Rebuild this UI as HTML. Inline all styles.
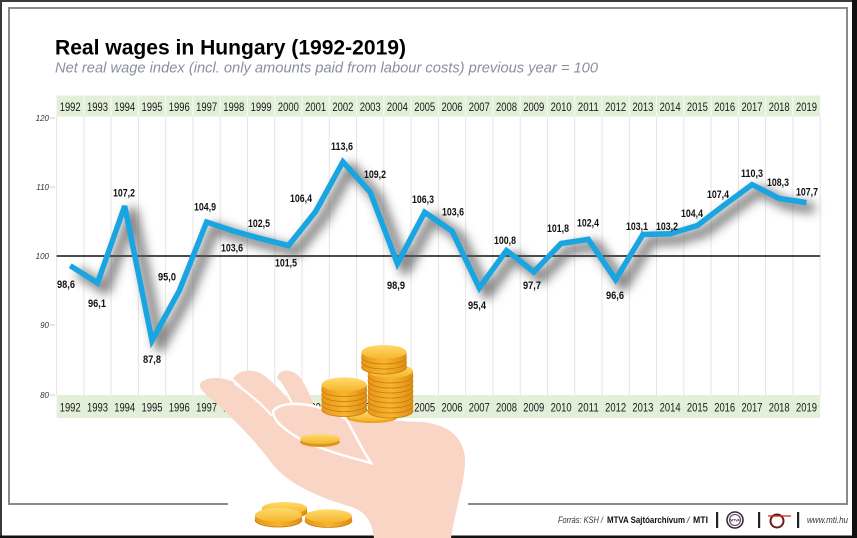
<!DOCTYPE html>
<html><head><meta charset="utf-8"><style>
html,body{margin:0;padding:0;background:#fff;}
svg{display:block;}
text{font-family:"Liberation Sans",Arial,sans-serif;}
</style></head><body>
<svg width="857" height="538" viewBox="0 0 857 538" xmlns="http://www.w3.org/2000/svg">
<defs>
<filter id="sh" x="-10%" y="-30%" width="130%" height="170%"><feGaussianBlur stdDeviation="5"/></filter>
<linearGradient id="cg" x1="0" y1="0" x2="0" y2="1"><stop offset="0" stop-color="#ffdb6a"/><stop offset="1" stop-color="#f5b52e"/></linearGradient>
<linearGradient id="sg" x1="0" y1="0" x2="1" y2="0"><stop offset="0" stop-color="#e8961a"/><stop offset="0.5" stop-color="#f7b52c"/><stop offset="1" stop-color="#e08d14"/></linearGradient>
<g id="coin">
<ellipse cx="0" cy="5" rx="22.5" ry="7" fill="url(#sg)" stroke="#c47a0e" stroke-width="0.8"/>
<rect x="-22.5" y="0" width="45" height="5" fill="url(#sg)"/>
<ellipse cx="0" cy="0" rx="22.5" ry="7" fill="url(#cg)"/>
</g>
</defs>
<rect x="0" y="0" width="857" height="538" fill="#fff"/>
<rect x="0" y="0" width="857" height="2" fill="#3a3a3a"/>
<rect x="0" y="0" width="2" height="538" fill="#3a3a3a"/>
<rect x="852" y="0" width="5" height="538" fill="#111"/>
<rect x="0" y="535.5" width="857" height="2.5" fill="#111"/>
<rect x="9" y="8" width="838" height="496" fill="none" stroke="#8a8a8a" stroke-width="2"/>

<text x="55" y="54.5" font-size="21" font-weight="bold" fill="#000" textLength="351" lengthAdjust="spacingAndGlyphs">Real wages in Hungary (1992-2019)</text>
<text x="55" y="72.5" font-size="14.5" font-style="italic" fill="#8a8fa0" textLength="543" lengthAdjust="spacingAndGlyphs">Net real wage index (incl. only amounts paid from labour costs) previous year = 100</text>

<rect x="56.6" y="95.5" width="763.6" height="21" fill="#e2efd9"/>
<rect x="56.6" y="395" width="763.6" height="23" fill="#e2efd9"/>

<g stroke="#e4e4e4" stroke-width="1">
<line x1="56.6" y1="116.5" x2="56.6" y2="395"/><line x1="83.9" y1="116.5" x2="83.9" y2="395"/><line x1="111.1" y1="116.5" x2="111.1" y2="395"/><line x1="138.4" y1="116.5" x2="138.4" y2="395"/><line x1="165.7" y1="116.5" x2="165.7" y2="395"/><line x1="193.0" y1="116.5" x2="193.0" y2="395"/><line x1="220.2" y1="116.5" x2="220.2" y2="395"/><line x1="247.5" y1="116.5" x2="247.5" y2="395"/><line x1="274.8" y1="116.5" x2="274.8" y2="395"/><line x1="302.0" y1="116.5" x2="302.0" y2="395"/><line x1="329.3" y1="116.5" x2="329.3" y2="395"/><line x1="356.6" y1="116.5" x2="356.6" y2="395"/><line x1="383.8" y1="116.5" x2="383.8" y2="395"/><line x1="411.1" y1="116.5" x2="411.1" y2="395"/><line x1="438.4" y1="116.5" x2="438.4" y2="395"/><line x1="465.7" y1="116.5" x2="465.7" y2="395"/><line x1="492.9" y1="116.5" x2="492.9" y2="395"/><line x1="520.2" y1="116.5" x2="520.2" y2="395"/><line x1="547.5" y1="116.5" x2="547.5" y2="395"/><line x1="574.7" y1="116.5" x2="574.7" y2="395"/><line x1="602.0" y1="116.5" x2="602.0" y2="395"/><line x1="629.3" y1="116.5" x2="629.3" y2="395"/><line x1="656.5" y1="116.5" x2="656.5" y2="395"/><line x1="683.8" y1="116.5" x2="683.8" y2="395"/><line x1="711.1" y1="116.5" x2="711.1" y2="395"/><line x1="738.4" y1="116.5" x2="738.4" y2="395"/><line x1="765.6" y1="116.5" x2="765.6" y2="395"/><line x1="792.9" y1="116.5" x2="792.9" y2="395"/><line x1="820.2" y1="116.5" x2="820.2" y2="395"/>
</g>
<g stroke="#f6fbf3" stroke-width="1">
<line x1="83.9" y1="95.5" x2="83.9" y2="116.5"/><line x1="111.1" y1="95.5" x2="111.1" y2="116.5"/><line x1="138.4" y1="95.5" x2="138.4" y2="116.5"/><line x1="165.7" y1="95.5" x2="165.7" y2="116.5"/><line x1="193.0" y1="95.5" x2="193.0" y2="116.5"/><line x1="220.2" y1="95.5" x2="220.2" y2="116.5"/><line x1="247.5" y1="95.5" x2="247.5" y2="116.5"/><line x1="274.8" y1="95.5" x2="274.8" y2="116.5"/><line x1="302.0" y1="95.5" x2="302.0" y2="116.5"/><line x1="329.3" y1="95.5" x2="329.3" y2="116.5"/><line x1="356.6" y1="95.5" x2="356.6" y2="116.5"/><line x1="383.8" y1="95.5" x2="383.8" y2="116.5"/><line x1="411.1" y1="95.5" x2="411.1" y2="116.5"/><line x1="438.4" y1="95.5" x2="438.4" y2="116.5"/><line x1="465.7" y1="95.5" x2="465.7" y2="116.5"/><line x1="492.9" y1="95.5" x2="492.9" y2="116.5"/><line x1="520.2" y1="95.5" x2="520.2" y2="116.5"/><line x1="547.5" y1="95.5" x2="547.5" y2="116.5"/><line x1="574.7" y1="95.5" x2="574.7" y2="116.5"/><line x1="602.0" y1="95.5" x2="602.0" y2="116.5"/><line x1="629.3" y1="95.5" x2="629.3" y2="116.5"/><line x1="656.5" y1="95.5" x2="656.5" y2="116.5"/><line x1="683.8" y1="95.5" x2="683.8" y2="116.5"/><line x1="711.1" y1="95.5" x2="711.1" y2="116.5"/><line x1="738.4" y1="95.5" x2="738.4" y2="116.5"/><line x1="765.6" y1="95.5" x2="765.6" y2="116.5"/><line x1="792.9" y1="95.5" x2="792.9" y2="116.5"/>
</g>

<g stroke="#cccccc" stroke-width="1">
<line x1="50" y1="118" x2="55" y2="118"/><line x1="50" y1="187" x2="55" y2="187"/><line x1="50" y1="325" x2="55" y2="325"/><line x1="50" y1="395" x2="55" y2="395"/>
</g>
<g font-size="8" font-style="italic" fill="#333" text-anchor="end">
<text x="49" y="121">120</text>
<text x="49" y="190">110</text>
<text x="49" y="259">100</text>
<text x="49" y="328">90</text>
<text x="49" y="398">80</text>
</g>

<line x1="56.6" y1="256" x2="820.2" y2="256" stroke="#111" stroke-width="1.5"/>

<g font-size="11.5" fill="#1a1a1a" text-anchor="middle">
<g>
<text x="70.2" y="111" textLength="21" lengthAdjust="spacingAndGlyphs">1992</text><text x="97.5" y="111" textLength="21" lengthAdjust="spacingAndGlyphs">1993</text><text x="124.7" y="111" textLength="21" lengthAdjust="spacingAndGlyphs">1994</text><text x="152.0" y="111" textLength="21" lengthAdjust="spacingAndGlyphs">1995</text><text x="179.3" y="111" textLength="21" lengthAdjust="spacingAndGlyphs">1996</text><text x="206.6" y="111" textLength="21" lengthAdjust="spacingAndGlyphs">1997</text><text x="233.8" y="111" textLength="21" lengthAdjust="spacingAndGlyphs">1998</text><text x="261.1" y="111" textLength="21" lengthAdjust="spacingAndGlyphs">1999</text><text x="288.4" y="111" textLength="21" lengthAdjust="spacingAndGlyphs">2000</text><text x="315.6" y="111" textLength="21" lengthAdjust="spacingAndGlyphs">2001</text><text x="342.9" y="111" textLength="21" lengthAdjust="spacingAndGlyphs">2002</text><text x="370.2" y="111" textLength="21" lengthAdjust="spacingAndGlyphs">2003</text><text x="397.4" y="111" textLength="21" lengthAdjust="spacingAndGlyphs">2004</text><text x="424.7" y="111" textLength="21" lengthAdjust="spacingAndGlyphs">2005</text><text x="452.0" y="111" textLength="21" lengthAdjust="spacingAndGlyphs">2006</text><text x="479.3" y="111" textLength="21" lengthAdjust="spacingAndGlyphs">2007</text><text x="506.5" y="111" textLength="21" lengthAdjust="spacingAndGlyphs">2008</text><text x="533.8" y="111" textLength="21" lengthAdjust="spacingAndGlyphs">2009</text><text x="561.1" y="111" textLength="21" lengthAdjust="spacingAndGlyphs">2010</text><text x="588.3" y="111" textLength="21" lengthAdjust="spacingAndGlyphs">2011</text><text x="615.6" y="111" textLength="21" lengthAdjust="spacingAndGlyphs">2012</text><text x="642.9" y="111" textLength="21" lengthAdjust="spacingAndGlyphs">2013</text><text x="670.1" y="111" textLength="21" lengthAdjust="spacingAndGlyphs">2014</text><text x="697.4" y="111" textLength="21" lengthAdjust="spacingAndGlyphs">2015</text><text x="724.7" y="111" textLength="21" lengthAdjust="spacingAndGlyphs">2016</text><text x="752.0" y="111" textLength="21" lengthAdjust="spacingAndGlyphs">2017</text><text x="779.2" y="111" textLength="21" lengthAdjust="spacingAndGlyphs">2018</text><text x="806.5" y="111" textLength="21" lengthAdjust="spacingAndGlyphs">2019</text>
</g>
<g>
<text x="70.2" y="411.5" textLength="21" lengthAdjust="spacingAndGlyphs">1992</text><text x="97.5" y="411.5" textLength="21" lengthAdjust="spacingAndGlyphs">1993</text><text x="124.7" y="411.5" textLength="21" lengthAdjust="spacingAndGlyphs">1994</text><text x="152.0" y="411.5" textLength="21" lengthAdjust="spacingAndGlyphs">1995</text><text x="179.3" y="411.5" textLength="21" lengthAdjust="spacingAndGlyphs">1996</text><text x="206.6" y="411.5" textLength="21" lengthAdjust="spacingAndGlyphs">1997</text><text x="233.8" y="411.5" textLength="21" lengthAdjust="spacingAndGlyphs">1998</text><text x="261.1" y="411.5" textLength="21" lengthAdjust="spacingAndGlyphs">1999</text><text x="288.4" y="411.5" textLength="21" lengthAdjust="spacingAndGlyphs">2000</text><text x="315.6" y="411.5" textLength="21" lengthAdjust="spacingAndGlyphs">2001</text><text x="342.9" y="411.5" textLength="21" lengthAdjust="spacingAndGlyphs">2002</text><text x="370.2" y="411.5" textLength="21" lengthAdjust="spacingAndGlyphs">2003</text><text x="397.4" y="411.5" textLength="21" lengthAdjust="spacingAndGlyphs">2004</text><text x="424.7" y="411.5" textLength="21" lengthAdjust="spacingAndGlyphs">2005</text><text x="452.0" y="411.5" textLength="21" lengthAdjust="spacingAndGlyphs">2006</text><text x="479.3" y="411.5" textLength="21" lengthAdjust="spacingAndGlyphs">2007</text><text x="506.5" y="411.5" textLength="21" lengthAdjust="spacingAndGlyphs">2008</text><text x="533.8" y="411.5" textLength="21" lengthAdjust="spacingAndGlyphs">2009</text><text x="561.1" y="411.5" textLength="21" lengthAdjust="spacingAndGlyphs">2010</text><text x="588.3" y="411.5" textLength="21" lengthAdjust="spacingAndGlyphs">2011</text><text x="615.6" y="411.5" textLength="21" lengthAdjust="spacingAndGlyphs">2012</text><text x="642.9" y="411.5" textLength="21" lengthAdjust="spacingAndGlyphs">2013</text><text x="670.1" y="411.5" textLength="21" lengthAdjust="spacingAndGlyphs">2014</text><text x="697.4" y="411.5" textLength="21" lengthAdjust="spacingAndGlyphs">2015</text><text x="724.7" y="411.5" textLength="21" lengthAdjust="spacingAndGlyphs">2016</text><text x="752.0" y="411.5" textLength="21" lengthAdjust="spacingAndGlyphs">2017</text><text x="779.2" y="411.5" textLength="21" lengthAdjust="spacingAndGlyphs">2018</text><text x="806.5" y="411.5" textLength="21" lengthAdjust="spacingAndGlyphs">2019</text>
</g>
</g>

<polyline transform="translate(8,6)" filter="url(#sh)" fill="none" stroke="#555" stroke-opacity="0.7" stroke-width="11" stroke-linejoin="round"
points="70.2,265.7 97.5,283.0 124.7,206.1 152.0,340.5 179.3,290.7 206.6,222.0 233.8,231.1 261.1,238.7 288.4,245.6 315.6,211.6 342.9,161.8 370.2,192.2 397.4,263.6 424.7,212.3 452.0,231.1 479.3,287.9 506.5,250.5 533.8,271.9 561.1,243.5 588.3,239.4 615.6,279.6 642.9,234.5 670.1,233.8 697.4,225.5 724.7,204.7 752.0,184.6 779.2,198.5 806.5,202.6"/>
<polyline fill="none" stroke="#19a5e1" stroke-width="5.5" stroke-linejoin="miter" stroke-miterlimit="3"
points="70.2,265.7 97.5,283.0 124.7,206.1 152.0,340.5 179.3,290.7 206.6,222.0 233.8,231.1 261.1,238.7 288.4,245.6 315.6,211.6 342.9,161.8 370.2,192.2 397.4,263.6 424.7,212.3 452.0,231.1 479.3,287.9 506.5,250.5 533.8,271.9 561.1,243.5 588.3,239.4 615.6,279.6 642.9,234.5 670.1,233.8 697.4,225.5 724.7,204.7 752.0,184.6 779.2,198.5 806.5,202.6"/>

<g font-size="11" font-weight="bold" fill="#111" text-anchor="middle">
<text x="66" y="288" textLength="18" lengthAdjust="spacingAndGlyphs">98,6</text>
<text x="97" y="307" textLength="18" lengthAdjust="spacingAndGlyphs">96,1</text>
<text x="124" y="196.5" textLength="22" lengthAdjust="spacingAndGlyphs">107,2</text>
<text x="152" y="363" textLength="18" lengthAdjust="spacingAndGlyphs">87,8</text>
<text x="167" y="280.5" textLength="18" lengthAdjust="spacingAndGlyphs">95,0</text>
<text x="205" y="210.5" textLength="22" lengthAdjust="spacingAndGlyphs">104,9</text>
<text x="232" y="251.5" textLength="22" lengthAdjust="spacingAndGlyphs">103,6</text>
<text x="259" y="227" textLength="22" lengthAdjust="spacingAndGlyphs">102,5</text>
<text x="286" y="266.5" textLength="22" lengthAdjust="spacingAndGlyphs">101,5</text>
<text x="301" y="202" textLength="22" lengthAdjust="spacingAndGlyphs">106,4</text>
<text x="342" y="150" textLength="22" lengthAdjust="spacingAndGlyphs">113,6</text>
<text x="375" y="178" textLength="22" lengthAdjust="spacingAndGlyphs">109,2</text>
<text x="396" y="289" textLength="18" lengthAdjust="spacingAndGlyphs">98,9</text>
<text x="423" y="203" textLength="22" lengthAdjust="spacingAndGlyphs">106,3</text>
<text x="453" y="215.5" textLength="22" lengthAdjust="spacingAndGlyphs">103,6</text>
<text x="477" y="309" textLength="18" lengthAdjust="spacingAndGlyphs">95,4</text>
<text x="505" y="244" textLength="22" lengthAdjust="spacingAndGlyphs">100,8</text>
<text x="532" y="289" textLength="18" lengthAdjust="spacingAndGlyphs">97,7</text>
<text x="558" y="232" textLength="22" lengthAdjust="spacingAndGlyphs">101,8</text>
<text x="588" y="226.5" textLength="22" lengthAdjust="spacingAndGlyphs">102,4</text>
<text x="615" y="299" textLength="18" lengthAdjust="spacingAndGlyphs">96,6</text>
<text x="637" y="230" textLength="22" lengthAdjust="spacingAndGlyphs">103,1</text>
<text x="667" y="230" textLength="22" lengthAdjust="spacingAndGlyphs">103,2</text>
<text x="692" y="217" textLength="22" lengthAdjust="spacingAndGlyphs">104,4</text>
<text x="718" y="198" textLength="22" lengthAdjust="spacingAndGlyphs">107,4</text>
<text x="752" y="177" textLength="22" lengthAdjust="spacingAndGlyphs">110,3</text>
<text x="778" y="186" textLength="22" lengthAdjust="spacingAndGlyphs">108,3</text>
<text x="807" y="195.5" textLength="22" lengthAdjust="spacingAndGlyphs">107,7</text>
</g>

<rect x="228" y="498" width="240" height="10" fill="#fff"/>
<g fill="#f9d5c5">
<path d="M200,384 C204,377 220,376 234,382 C252,392 270,407 292,412 L322,414 C350,418 385,421 423,422 C447,425 462,435 465,457 C466,480 456,505 451,538 L374,538 C372,522 366,512 352,507 C320,498 290,485 273,465 C255,440 230,415 210,398 C203,392 199,388 200,384 Z"/>
<path d="M233,379 C237,370 252,368 262,374 C275,383 287,397 298,412 L272,416 C260,402 247,390 233,379 Z"/>
<path d="M277,377 C280,368 294,368 302,380 C308,390 312,400 316,412 L296,414 C291,400 284,388 277,377 Z"/>
</g>
<g fill="none" stroke="#fff" stroke-width="2">
<path d="M234,383 C250,394 262,404 272,416"/>
<path d="M279,381 C287,392 292,402 296,413"/>
</g>
<path d="M273,411 C282,400 314,401 346,419 C354,432 361,448 371,463 C340,455 310,446 292,434 C280,426 273,419 273,411 Z" fill="#f9d5c5" stroke="#fff" stroke-width="2.5"/>

<ellipse cx="372" cy="418" rx="25" ry="5" fill="#eaa020"/>
<ellipse cx="372" cy="416" rx="25" ry="5" fill="url(#cg)"/>
<g>
<ellipse cx="320" cy="442" rx="20" ry="5" fill="#e0951a"/>
<ellipse cx="320" cy="439" rx="20" ry="5" fill="url(#cg)"/>
</g>
<g transform="translate(390.5,0)">
<use href="#coin" y="406"/><use href="#coin" y="401"/><use href="#coin" y="396"/><use href="#coin" y="391"/><use href="#coin" y="386"/><use href="#coin" y="381"/><use href="#coin" y="376"/><use href="#coin" y="371"/>
</g>
<g transform="translate(384,0)">
<use href="#coin" y="362"/><use href="#coin" y="357"/><use href="#coin" y="352"/>
</g>
<g transform="translate(344.2,0)">
<use href="#coin" y="404.5"/><use href="#coin" y="399.5"/><use href="#coin" y="394.5"/><use href="#coin" y="389.5"/><use href="#coin" y="384.5"/>
</g>
<g transform="translate(284.5,508) scale(1,0.85)"><use href="#coin"/></g>
<g transform="translate(278.5,515) scale(1.04,1)"><use href="#coin"/></g>
<g transform="translate(328.5,516) scale(1.04,0.95)"><use href="#coin"/></g>

<g font-size="9" fill="#333">
<text x="558" y="523" font-style="italic" textLength="45" lengthAdjust="spacingAndGlyphs">Forrás: KSH /</text>
<text x="607" y="523" font-weight="bold" fill="#111" textLength="78" lengthAdjust="spacingAndGlyphs">MTVA Sajtóarchívum</text>
<text x="687" y="523" font-style="italic">/</text>
<text x="693" y="523" font-weight="bold" fill="#111" textLength="15" lengthAdjust="spacingAndGlyphs">MTI</text>
<text x="807" y="523" font-style="italic" textLength="41" lengthAdjust="spacingAndGlyphs">www.mti.hu</text>
</g>
<rect x="716" y="512" width="2.2" height="16" fill="#222"/>
<rect x="758" y="512" width="2.2" height="16" fill="#222"/>
<rect x="797" y="512" width="2.2" height="16" fill="#222"/>
<circle cx="735" cy="520" r="8" fill="#fff" stroke="#3a2a40" stroke-width="1.6"/>
<circle cx="735" cy="520" r="5.5" fill="#fff" stroke="#5a3a60" stroke-width="1"/>
<text x="735" y="521.3" font-size="3.5" font-weight="bold" text-anchor="middle" fill="#333">MTVA</text>
<ellipse cx="777" cy="521" rx="6.5" ry="6.5" fill="none" stroke="#6a1a1a" stroke-width="2"/>
<line x1="768" y1="516" x2="791" y2="516" stroke="#d42020" stroke-width="1.2"/>
</svg>
</body></html>
